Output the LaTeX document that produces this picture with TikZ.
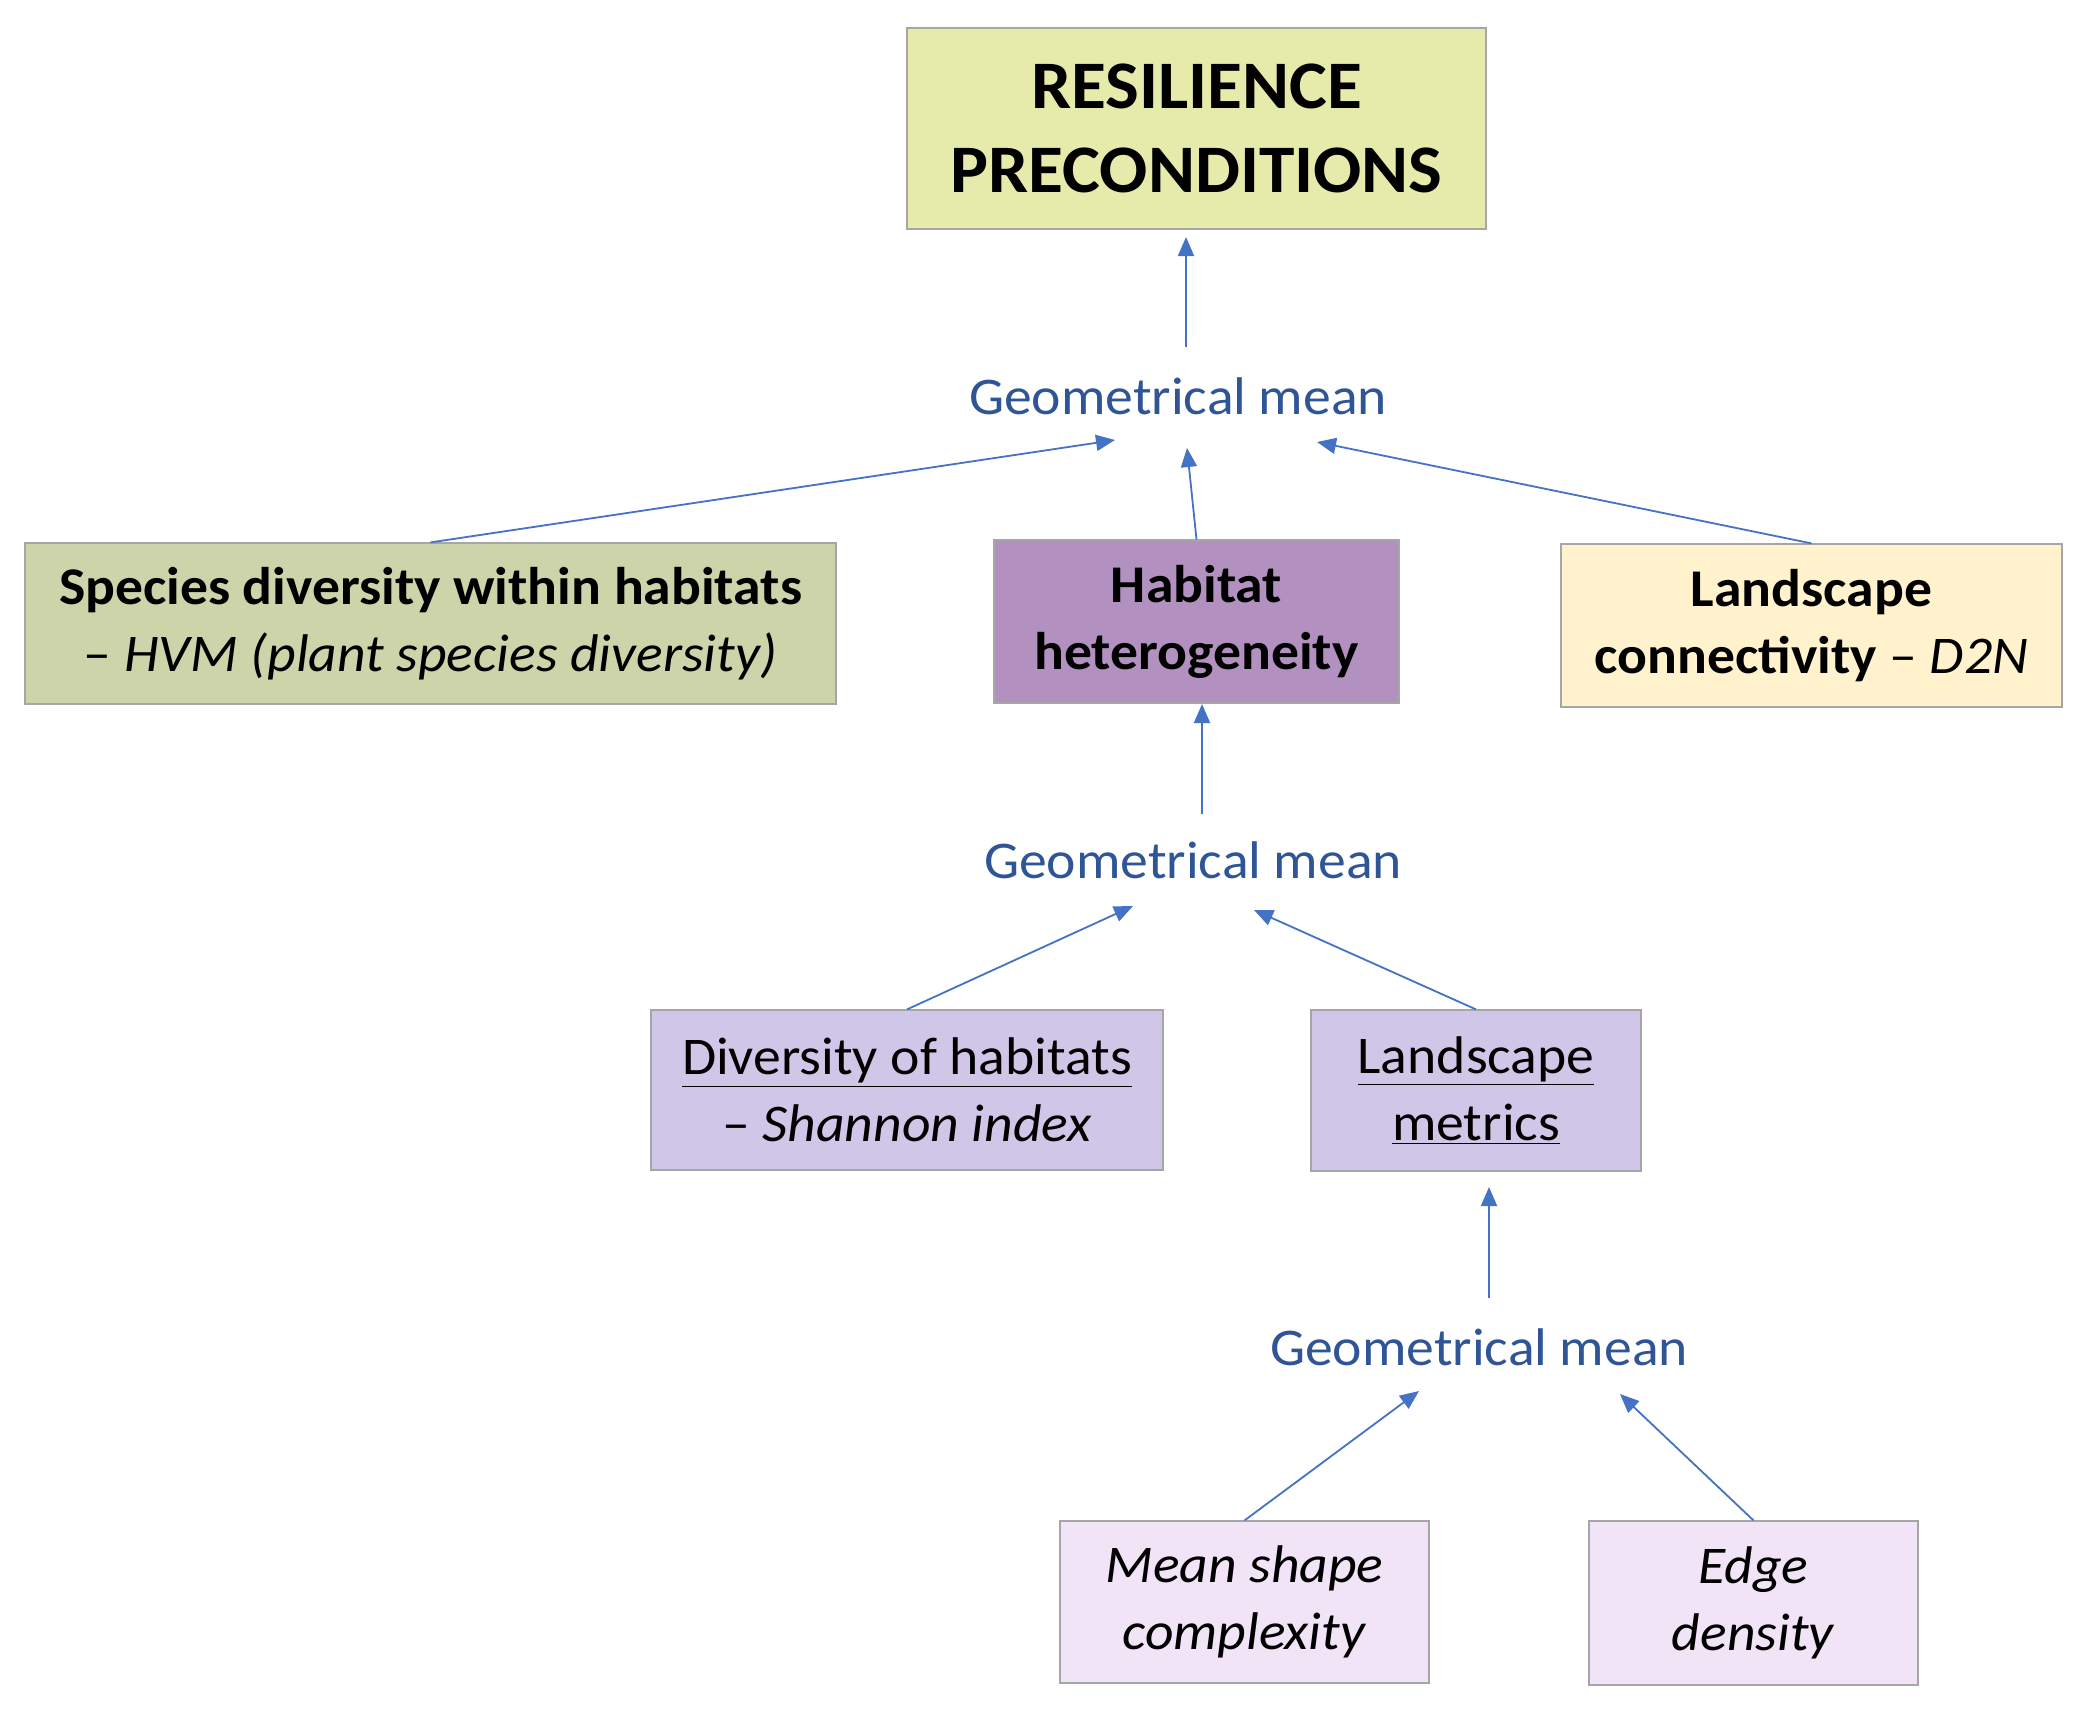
\documentclass[tikz,border=0pt]{standalone}
\usepackage{fontspec}
\setmainfont{Carlito}[FakeStretch=1.05]
\usetikzlibrary{arrows.meta}
\definecolor{cTop}{HTML}{E6EBAB}
\definecolor{cSpec}{HTML}{CDD4A9}
\definecolor{cHab}{HTML}{B291C0}
\definecolor{cLC}{HTML}{FFF2CC}
\definecolor{cLav}{HTML}{CFC6E8}
\definecolor{cPale}{HTML}{F0E4F6}
\definecolor{cGM}{HTML}{2F5597}
\definecolor{cArr}{HTML}{4472C4}
\definecolor{cBorder}{HTML}{A6A6A6}
\newcommand{\ulx}[1]{\underline{#1}}
\begin{document}
\begin{tikzpicture}[x=0.5pt,y=-0.5pt,
  box/.style={draw=cBorder, line width=0.6pt, align=center, inner sep=0pt,
    font=\fontsize{26.5}{33.5}\selectfont},
  gm/.style={text=cGM, inner sep=0pt, font=\fontsize{26.5}{30}\selectfont},
  arr/.style={draw=cArr, line width=0.9pt, -{Triangle[length=9.5pt,width=8pt]}}]
\useasboundingbox (0,0) rectangle (2092,1714);
\node[box, fill=cTop, minimum width=289.5pt, minimum height=100.5pt,
  font=\fontsize{34}{42}\selectfont\bfseries] (top) at (1196.5,128.5)
  {RESILIENCE\\PRECONDITIONS};
\node[box, fill=cSpec, minimum width=405.5pt, minimum height=80.5pt] (spec) at (430.5,623.5)
  {\textbf{Species diversity within habitats}\\– \textit{HVM (plant species diversity)}};
\node[box, fill=cHab, minimum width=202.5pt, minimum height=81.5pt] (hab) at (1196.5,621.5)
  {\textbf{Habitat}\\\textbf{heterogeneity}};
\node[box, fill=cLC, minimum width=250.5pt, minimum height=81.5pt] (lc) at (1811.5,625.5)
  {\textbf{Landscape}\\\textbf{connectivity} – \textit{D2N}};
\node[box, fill=cLav, minimum width=256pt, minimum height=80pt] (div) at (907,1090)
  {\ulx{Diversity of habitats}\\– \textit{Shannon index}};
\node[box, fill=cLav, minimum width=165pt, minimum height=80.5pt] (lm) at (1476,1090.5)
  {\ulx{Landscape}\\\ulx{metrics}};
\node[box, fill=cPale, minimum width=184.5pt, minimum height=81pt] (msc) at (1244.5,1602)
  {\textit{Mean shape}\\\textit{complexity}};
\node[box, fill=cPale, minimum width=164.5pt, minimum height=82pt] (ed) at (1753.5,1603)
  {\textit{Edge}\\\textit{density}};
\node[gm] (gm1) at (1178,396) {Geometrical mean};
\node[gm] (gm2) at (1193,860) {Geometrical mean};
\node[gm] (gm3) at (1479,1347) {Geometrical mean};
% arrow end coordinates
\coordinate (t1) at (1186,237);
\coordinate (s1) at (1186,347);
\coordinate (e2) at (1115,440);
\coordinate (e3) at (1187,448);
\coordinate (e4) at (1317,442);
\coordinate (t5) at (1202,704);
\coordinate (s5) at (1202,814);
\coordinate (e6) at (1133,906);
\coordinate (e7) at (1254,910);
\coordinate (t8) at (1489,1187);
\coordinate (s8) at (1489,1298);
\coordinate (e9) at (1419,1391);
\coordinate (e10) at (1620,1394);
\draw[arr] (s1) -- (t1);
\draw[arr] (spec.north) -- (e2);
\draw[arr] (hab.north) -- (e3);
\draw[arr] (lc.north) -- (e4);
\draw[arr] (s5) -- (t5);
\draw[arr] (div.north) -- (e6);
\draw[arr] (lm.north) -- (e7);
\draw[arr] (s8) -- (t8);
\draw[arr] (msc.north) -- (e9);
\draw[arr] (ed.north) -- (e10);
\end{tikzpicture}
\end{document}
